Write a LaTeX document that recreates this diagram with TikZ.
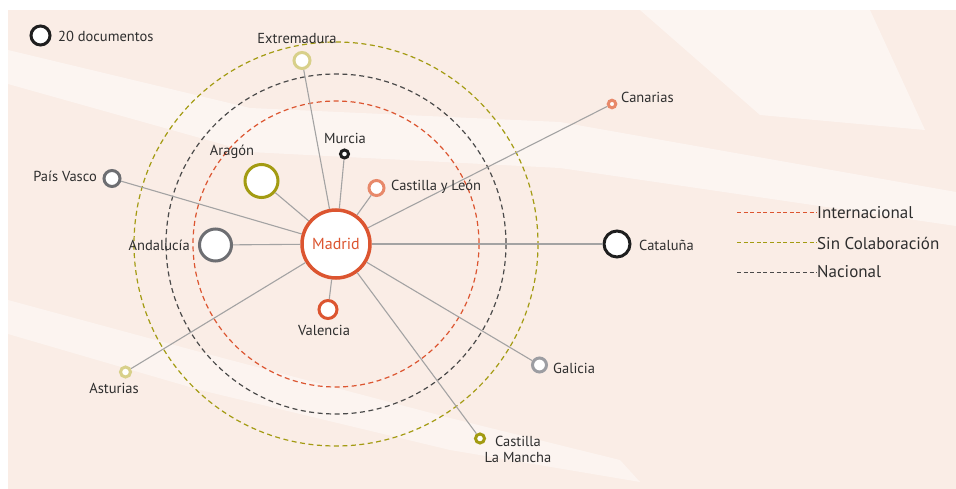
\documentclass[tikz,border=0pt]{standalone}
\usepackage{fontspec}
\setmainfont{PT Sans}
\definecolor{fondo}{HTML}{FAEDE6}
\definecolor{rojo}{HTML}{DC5530}
\definecolor{salmon}{HTML}{E8896A}
\definecolor{oliva}{HTML}{A39B12}
\definecolor{claro}{HTML}{D8D08A}
\definecolor{gris}{HTML}{6D6E72}
\definecolor{grisclaro}{HTML}{9C9DA2}
\definecolor{negro}{HTML}{1E1E1E}
\definecolor{oscuro}{HTML}{4A4A4A}
\definecolor{linea}{HTML}{A3A3A3}
\definecolor{texto}{HTML}{2E2E2E}

\begin{document}
\begin{tikzpicture}[x=1pt,y=-1pt,
    nodo/.style={circle,draw,fill=white,inner sep=0pt,line width=3pt},
    enlace/.style={draw=linea,line width=1.1pt},
    anillo/.style={line width=1.2pt,dash pattern=on 5pt off 3.5pt},
    muestra/.style={line width=1pt,dash pattern=on 4pt off 2.6pt},
    etiqueta/.style={text=texto,inner sep=0pt,font=\fontsize{14.5}{16}\selectfont},
    leyenda/.style={text=texto,inner sep=0pt,anchor=west,font=\fontsize{17}{18}\selectfont}]
    \useasboundingbox (0,0) rectangle (956,489);

    % fondo
    \fill[fondo] (8,10) rectangle (956,489);
    \fill[white,opacity=.45] (8,50) -- (250,108) -- (560,122) -- (956,192) -- (956,226)
        -- (560,168) -- (250,152) -- (8,84) -- cycle;
    \fill[white,opacity=.45] (640,10) -- (870,10) -- (925,130) -- (760,115) -- cycle;
    \fill[white,opacity=.4] (8,300) -- (200,352) -- (450,418) -- (620,460) -- (640,482)
        -- (450,450) -- (200,390) -- (8,334) -- cycle;

    \coordinate (M) at (336,244);

    % anillos
    \draw[anillo,draw=oliva] (M) circle[radius=202];
    \draw[anillo,draw=oscuro] (M) circle[radius=170];
    \draw[anillo,draw=rojo] (M) circle[radius=143];

    % nodos
    \node[nodo,draw=rojo,line width=3.5pt,minimum size=68pt] (madrid) at (M) {};
    \foreach \n/\x/\y/\s/\c in {
        muestra20/40.5/35.5/19/negro,
        extremadura/302/60.5/16/claro,
        murcia/344.5/154/8/negro,
        castillaleon/376.5/188/15/salmon,
        aragon/261.5/181/33/oliva,
        paisvasco/112/178.5/16/gris,
        andalucia/215.5/245/32/gris,
        valencia/328/309.5/18/rojo,
        asturias/125.5/372/10/claro,
        canarias/612/104/7.5/salmon,
        cataluna/617/244/26/negro,
        galicia/539.5/365/14/grisclaro,
        castillamancha/480/438.5/9/oliva}{
        \node[nodo,draw=\c,minimum size=\s pt] (\n) at (\x,\y) {};
    }

    % enlaces
    \foreach \n in {extremadura,murcia,castillaleon,aragon,paisvasco,andalucia,
        valencia,asturias,canarias,cataluna,galicia,castillamancha}{
        \draw[enlace] (madrid) -- (\n);
    }

    % textos
    \node[text=rojo,font=\fontsize{16}{18}\selectfont] (tmadrid) at (M) {Madrid};
    \node[etiqueta,anchor=west] (t20) at (58,36) {20 documentos};
    \node[etiqueta] (textremadura) at (297,39) {Extremadura};
    \node[etiqueta] (tmurcia) at (345,138) {Murcia};
    \node[etiqueta,anchor=west] (tcastillaleon) at (391,187) {Castilla y León};
    \node[etiqueta] (taragon) at (232,152) {Aragón};
    \node[etiqueta,anchor=east] (tpaisvasco) at (97,176) {País Vasco};
    \node[etiqueta,anchor=east] (tandalucia) at (190,245) {Andalucía};
    \node[etiqueta] (tvalencia) at (324,330) {Valencia};
    \node[etiqueta] (tasturias) at (114,388) {Asturias};
    \node[etiqueta,anchor=west] (tcanarias) at (621,97) {Canarias};
    \node[etiqueta,anchor=west] (tcataluna) at (639,245) {Cataluña};
    \node[etiqueta,anchor=west] (tgalicia) at (553,368) {Galicia};
    \node[etiqueta,align=center] (tcastillamancha) at (518,449) {Castilla\\La Mancha};

    % leyenda
    \foreach \n/\y/\c/\t in {int/213/rojo/Internacional,sin/243/oliva/Sin Colaboración,
        nac/272/oscuro/Nacional}{
        \coordinate (l\n) at (737,\y);
        \node[leyenda] (t\n) at (817,\y) {\t};
        \draw[muestra,draw=\c] (l\n) -- (t\n.west);
    }
\end{tikzpicture}
\end{document}
